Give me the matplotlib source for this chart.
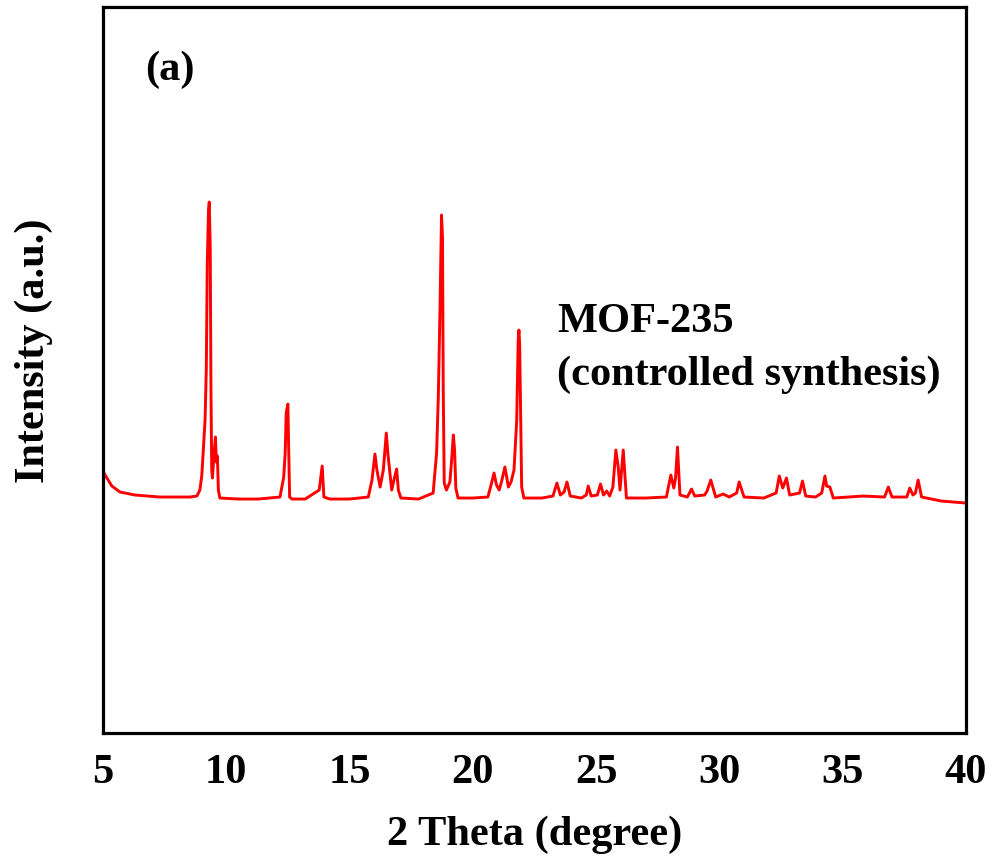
import matplotlib
matplotlib.use('Agg')
import matplotlib.pyplot as plt

# XRD pattern of MOF-235, traced point by point (2theta in degree, intensity in a.u.)
two_theta = [
    5.04, 5.16, 5.36, 5.69, 6.30, 7.31, 8.53, 8.81, 8.93, 9.01,
    9.14, 9.19, 9.23, 9.28, 9.31, 9.35, 9.38, 9.41, 9.44, 9.50,
    9.56, 9.60, 9.64, 9.68, 9.74, 10.5, 11.3, 12.18, 12.33, 12.39,
    12.43, 12.50, 12.53, 12.57, 12.66, 13.2, 13.77, 13.89, 13.96, 14.2,
    15.0, 15.76, 15.91, 16.03, 16.11, 16.24, 16.37, 16.49, 16.56, 16.71,
    16.82, 16.91, 16.98, 17.08, 17.8, 18.39, 18.53, 18.60, 18.67, 18.73,
    18.77, 18.80, 18.84, 18.93, 19.07, 19.14, 19.21, 19.26, 19.31, 19.40,
    20.0, 20.61, 20.73, 20.86, 20.96, 21.07, 21.18, 21.30, 21.38, 21.44,
    21.55, 21.67, 21.78, 21.84, 21.87, 21.90, 21.93, 21.98, 22.07, 22.8,
    23.25, 23.41, 23.55, 23.70, 23.82, 23.95, 24.4, 24.60, 24.68, 24.80,
    25.05, 25.18, 25.30, 25.43, 25.55, 25.68, 25.80, 25.90, 25.97, 26.10,
    26.23, 27.0, 27.85, 28.03, 28.15, 28.22, 28.30, 28.40, 28.70, 28.87,
    29.0, 29.40, 29.50, 29.65, 29.85, 30.15, 30.40, 30.70, 30.80, 31.0,
    31.8, 32.30, 32.43, 32.57, 32.72, 32.85, 33.25, 33.37, 33.50, 33.90,
    34.15, 34.28, 34.35, 34.48, 34.62, 35.22, 35.83, 36.70, 36.85, 37.0,
    37.60, 37.72, 37.85, 37.95, 38.06, 38.20, 39.0, 40.0,
]
intensity = [
    260, 255, 247, 241, 238, 236, 236, 237, 243, 258,
    313, 363, 470, 523, 531, 486, 343, 263, 255, 278,
    296, 271, 277, 243, 235, 234, 234, 236, 256, 280,
    320, 329, 286, 236, 234, 234, 243, 267, 236, 234,
    234, 236, 253, 279, 263, 246, 263, 300, 278, 243,
    255, 264, 243, 235, 234, 240, 280, 336, 426, 518,
    496, 343, 250, 243, 251, 273, 298, 283, 245, 235,
    235, 236, 247, 260, 248, 243, 253, 266, 255, 246,
    251, 263, 313, 393, 403, 388, 333, 246, 235, 235,
    237, 250, 238, 241, 251, 237, 235, 238, 247, 237,
    238, 249, 238, 242, 237, 246, 283, 265, 243, 283,
    235, 235, 236, 258, 245, 255, 286, 238, 236, 244,
    237, 238, 242, 253, 236, 239, 236, 240, 251, 236,
    235, 240, 257, 245, 255, 238, 240, 252, 237, 236,
    240, 257, 247, 246, 235, 236, 237, 236, 246, 236,
    236, 245, 238, 240, 253, 236, 232, 230,
]

plt.rcParams['font.family'] = ['Liberation Serif', 'DejaVu Serif']
plt.rcParams['font.weight'] = 'bold'
fs = 30.5

fig = plt.figure(figsize=(9.94, 8.68), dpi=100)
ax = fig.add_axes([0.1036, 0.1555, 0.8682, 0.8364])

ax.plot(two_theta, intensity, color='#ff0000', linewidth=2.1)

ax.set_xlim(5, 40)
ax.set_ylim(0, 726)
ax.set_xticks([5, 10, 15, 20, 25, 30, 35, 40])
ax.set_yticks([])
ax.tick_params(axis='x', length=0, pad=15, labelsize=fs)
for lbl in ax.get_xticklabels():
    lbl.set_fontweight('bold')

for sp in ax.spines.values():
    sp.set_linewidth(2.3)
    sp.set_color('black')

ax.set_xlabel('2 Theta (degree)', fontsize=fs, fontweight='bold')
ax.xaxis.set_label_coords(0.50, -0.113)
ax.set_ylabel('Intensity (a.u.)', fontsize=fs, fontweight='bold')
ax.yaxis.set_label_coords(-0.058, 0.526)

ax.text(0.049, 0.913, '(a)', transform=ax.transAxes, fontsize=fs,
        fontweight='bold', va='center', ha='left')
ax.text(0.526, 0.566, 'MOF-235', transform=ax.transAxes, fontsize=fs,
        fontweight='bold', va='center', ha='left')
ax.text(0.526, 0.493, '(controlled synthesis)', transform=ax.transAxes,
        fontsize=fs, fontweight='bold', va='center', ha='left')

fig.savefig('out.png', dpi=100)
